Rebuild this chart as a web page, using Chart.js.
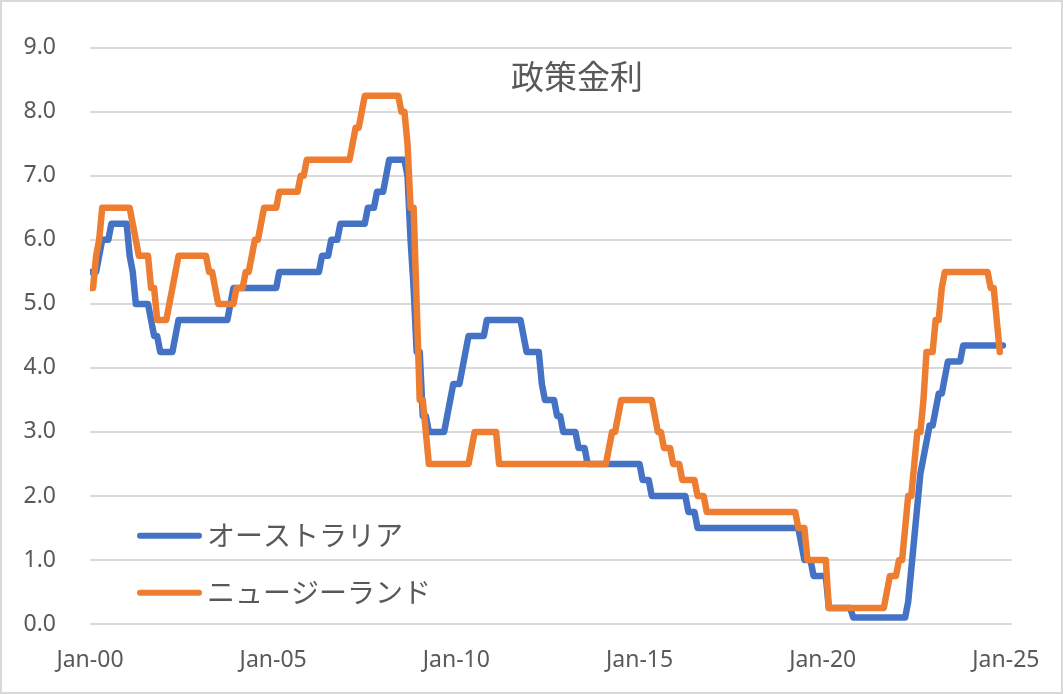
<!DOCTYPE html>
<html lang="ja">
<head>
<meta charset="utf-8">
<title>政策金利</title>
<script src="https://cdn.jsdelivr.net/npm/chart.js@4.4.1/dist/chart.umd.min.js"></script>
<style>
  html, body { margin: 0; padding: 0; background: #ffffff; }
  #wrap { position: relative; width: 1063px; height: 694px; }
</style>
</head>
<body>
<div id="wrap"><canvas id="rateChart"></canvas></div>
<script>
// 政策金利 (月次, 2000年1月〜2024年12月)
var chartTitle = '政策金利';
var seriesNames = ['オーストラリア', 'ニュージーランド'];
var xTickLabels = ['Jan-00', 'Jan-05', 'Jan-10', 'Jan-15', 'Jan-20', 'Jan-25'];
var monthsPerTick = 60;
var monthsOnAxis = 302;

// オーストラリア (RBA) 2000-2024, 1行 = 1年
var ausRates = [
  5.5, 5.5, 5.5, 5.75, 6.0, 6.0, 6.0, 6.25, 6.25, 6.25, 6.25, 6.25,
  6.25, 5.75, 5.5, 5.0, 5.0, 5.0, 5.0, 5.0, 4.75, 4.5, 4.5, 4.25,
  4.25, 4.25, 4.25, 4.25, 4.5, 4.75, 4.75, 4.75, 4.75, 4.75, 4.75, 4.75,
  4.75, 4.75, 4.75, 4.75, 4.75, 4.75, 4.75, 4.75, 4.75, 4.75, 5.0, 5.25,
  5.25, 5.25, 5.25, 5.25, 5.25, 5.25, 5.25, 5.25, 5.25, 5.25, 5.25, 5.25,
  5.25, 5.25, 5.5, 5.5, 5.5, 5.5, 5.5, 5.5, 5.5, 5.5, 5.5, 5.5,
  5.5, 5.5, 5.5, 5.5, 5.75, 5.75, 5.75, 6.0, 6.0, 6.0, 6.25, 6.25,
  6.25, 6.25, 6.25, 6.25, 6.25, 6.25, 6.25, 6.5, 6.5, 6.5, 6.75, 6.75,
  6.75, 7.0, 7.25, 7.25, 7.25, 7.25, 7.25, 7.25, 7.0, 6.0, 5.25, 4.25,
  4.25, 3.25, 3.25, 3.0, 3.0, 3.0, 3.0, 3.0, 3.0, 3.25, 3.5, 3.75,
  3.75, 3.75, 4.0, 4.25, 4.5, 4.5, 4.5, 4.5, 4.5, 4.5, 4.75, 4.75,
  4.75, 4.75, 4.75, 4.75, 4.75, 4.75, 4.75, 4.75, 4.75, 4.75, 4.5, 4.25,
  4.25, 4.25, 4.25, 4.25, 3.75, 3.5, 3.5, 3.5, 3.5, 3.25, 3.25, 3.0,
  3.0, 3.0, 3.0, 3.0, 2.75, 2.75, 2.75, 2.5, 2.5, 2.5, 2.5, 2.5,
  2.5, 2.5, 2.5, 2.5, 2.5, 2.5, 2.5, 2.5, 2.5, 2.5, 2.5, 2.5,
  2.5, 2.25, 2.25, 2.25, 2.0, 2.0, 2.0, 2.0, 2.0, 2.0, 2.0, 2.0,
  2.0, 2.0, 2.0, 2.0, 1.75, 1.75, 1.75, 1.5, 1.5, 1.5, 1.5, 1.5,
  1.5, 1.5, 1.5, 1.5, 1.5, 1.5, 1.5, 1.5, 1.5, 1.5, 1.5, 1.5,
  1.5, 1.5, 1.5, 1.5, 1.5, 1.5, 1.5, 1.5, 1.5, 1.5, 1.5, 1.5,
  1.5, 1.5, 1.5, 1.5, 1.5, 1.25, 1.0, 1.0, 1.0, 0.75, 0.75, 0.75,
  0.75, 0.75, 0.25, 0.25, 0.25, 0.25, 0.25, 0.25, 0.25, 0.25, 0.1, 0.1,
  0.1, 0.1, 0.1, 0.1, 0.1, 0.1, 0.1, 0.1, 0.1, 0.1, 0.1, 0.1,
  0.1, 0.1, 0.1, 0.1, 0.35, 0.85, 1.35, 1.85, 2.35, 2.6, 2.85, 3.1,
  3.1, 3.35, 3.6, 3.6, 3.85, 4.1, 4.1, 4.1, 4.1, 4.1, 4.35, 4.35,
  4.35, 4.35, 4.35, 4.35, 4.35, 4.35, 4.35, 4.35, 4.35, 4.35, 4.35, 4.35
];

// ニュージーランド (RBNZ OCR) 2000-2024/11
var nzRates = [
  5.25, 5.25, 5.75, 6.0, 6.5, 6.5, 6.5, 6.5, 6.5, 6.5, 6.5, 6.5,
  6.5, 6.5, 6.25, 6.0, 5.75, 5.75, 5.75, 5.75, 5.25, 5.25, 4.75, 4.75,
  4.75, 4.75, 5.0, 5.25, 5.5, 5.75, 5.75, 5.75, 5.75, 5.75, 5.75, 5.75,
  5.75, 5.75, 5.75, 5.5, 5.5, 5.25, 5.0, 5.0, 5.0, 5.0, 5.0, 5.0,
  5.25, 5.25, 5.25, 5.5, 5.5, 5.75, 6.0, 6.0, 6.25, 6.5, 6.5, 6.5,
  6.5, 6.5, 6.75, 6.75, 6.75, 6.75, 6.75, 6.75, 6.75, 7.0, 7.0, 7.25,
  7.25, 7.25, 7.25, 7.25, 7.25, 7.25, 7.25, 7.25, 7.25, 7.25, 7.25, 7.25,
  7.25, 7.25, 7.5, 7.75, 7.75, 8.0, 8.25, 8.25, 8.25, 8.25, 8.25, 8.25,
  8.25, 8.25, 8.25, 8.25, 8.25, 8.25, 8.0, 8.0, 7.5, 6.5, 6.5, 5.0,
  3.5, 3.5, 3.0, 2.5, 2.5, 2.5, 2.5, 2.5, 2.5, 2.5, 2.5, 2.5,
  2.5, 2.5, 2.5, 2.5, 2.5, 2.75, 3.0, 3.0, 3.0, 3.0, 3.0, 3.0,
  3.0, 3.0, 2.5, 2.5, 2.5, 2.5, 2.5, 2.5, 2.5, 2.5, 2.5, 2.5,
  2.5, 2.5, 2.5, 2.5, 2.5, 2.5, 2.5, 2.5, 2.5, 2.5, 2.5, 2.5,
  2.5, 2.5, 2.5, 2.5, 2.5, 2.5, 2.5, 2.5, 2.5, 2.5, 2.5, 2.5,
  2.5, 2.5, 2.75, 3.0, 3.0, 3.25, 3.5, 3.5, 3.5, 3.5, 3.5, 3.5,
  3.5, 3.5, 3.5, 3.5, 3.5, 3.25, 3.0, 3.0, 2.75, 2.75, 2.75, 2.5,
  2.5, 2.5, 2.25, 2.25, 2.25, 2.25, 2.25, 2.0, 2.0, 2.0, 1.75, 1.75,
  1.75, 1.75, 1.75, 1.75, 1.75, 1.75, 1.75, 1.75, 1.75, 1.75, 1.75, 1.75,
  1.75, 1.75, 1.75, 1.75, 1.75, 1.75, 1.75, 1.75, 1.75, 1.75, 1.75, 1.75,
  1.75, 1.75, 1.75, 1.75, 1.5, 1.5, 1.5, 1.0, 1.0, 1.0, 1.0, 1.0,
  1.0, 1.0, 0.25, 0.25, 0.25, 0.25, 0.25, 0.25, 0.25, 0.25, 0.25, 0.25,
  0.25, 0.25, 0.25, 0.25, 0.25, 0.25, 0.25, 0.25, 0.25, 0.5, 0.75, 0.75,
  0.75, 1.0, 1.0, 1.5, 2.0, 2.0, 2.5, 3.0, 3.0, 3.5, 4.25, 4.25,
  4.25, 4.75, 4.75, 5.25, 5.5, 5.5, 5.5, 5.5, 5.5, 5.5, 5.5, 5.5,
  5.5, 5.5, 5.5, 5.5, 5.5, 5.5, 5.5, 5.25, 5.25, 4.75, 4.25
];

var seriesColors = ['#4472C4', '#ED7D31'];
var textColor = '#595959';
var gridColor = '#D9D9D9';

// 月番号 (0 = 2000年1月) をx値にした点列
function toPoints(values) {
    return values.map(function (v, i) { return { x: i, y: v }; });
}

// タイトルと凡例はプロット領域の中に描く
var insideLabels = {
    id: 'insideLabels',
    beforeDraw: function (chart) {
        var c = chart.ctx;
        c.save();
        c.strokeStyle = gridColor;
        c.lineWidth = 2;
        c.strokeRect(1, 1, chart.width - 2, chart.height - 2);
        c.restore();
    },
    afterDraw: function (chart) {
        var c = chart.ctx;
        var area = chart.chartArea;
        c.save();
        c.fillStyle = textColor;
        c.textBaseline = 'middle';

        c.font = '33px "Noto Sans CJK JP"';
        c.textAlign = 'center';
        c.fillText(chartTitle, area.left + 487, area.top + 29);

        c.font = '28px "Noto Sans CJK JP"';
        c.textAlign = 'left';
        chart.data.datasets.forEach(function (ds, i) {
            var y = area.top + 488 + i * 57;
            c.strokeStyle = ds.borderColor;
            c.lineWidth = 6;
            c.lineCap = 'round';
            c.beginPath();
            c.moveTo(area.left + 50, y);
            c.lineTo(area.left + 109, y);
            c.stroke();
            c.fillText(ds.label, area.left + 117, y);
        });
        c.restore();
    }
};

var ctx = document.getElementById('rateChart');
new Chart(ctx, {
    type: 'line',
    data: {
        datasets: [
            {
                label: seriesNames[0],
                data: toPoints(ausRates),
                borderColor: seriesColors[0],
                backgroundColor: seriesColors[0],
                borderWidth: 6.5,
                order: 1
            },
            {
                label: seriesNames[1],
                data: toPoints(nzRates),
                borderColor: seriesColors[1],
                backgroundColor: seriesColors[1],
                borderWidth: 6.5,
                order: 0
            }
        ]
    },
    options: {
        responsive: true,
        maintainAspectRatio: false,
        animation: false,
        layout: { padding: { top: 39, right: 51, left: 0, bottom: 0 } },
        elements: {
            point: { radius: 0, hoverRadius: 0 },
            line: { tension: 0, borderCapStyle: 'round', borderJoinStyle: 'round' }
        },
        plugins: {
            legend: { display: false },
            title: { display: false },
            tooltip: { enabled: false }
        },
        scales: {
            x: {
                type: 'linear',
                min: 0,
                max: monthsOnAxis,
                grid: { display: false, drawTicks: false },
                border: { display: false },
                afterBuildTicks: function (axis) {
                    axis.ticks = xTickLabels.map(function (_, i) { return { value: i * monthsPerTick }; });
                },
                afterFit: function (axis) { axis.height = 70; },
                ticks: {
                    autoSkip: false,
                    maxRotation: 0,
                    padding: 23,
                    color: textColor,
                    font: { family: '"Noto Sans"', size: 23 },
                    callback: function (value) { return xTickLabels[Math.round(value / monthsPerTick)]; }
                }
            },
            y: {
                min: 0,
                max: 9,
                grid: { color: gridColor, lineWidth: 2, drawTicks: false },
                border: { display: false },
                afterFit: function (axis) { axis.width = 90; },
                ticks: {
                    stepSize: 1,
                    padding: 34,
                    color: textColor,
                    font: { family: '"Noto Sans"', size: 23 },
                    callback: function (value) { return value.toFixed(1); }
                }
            }
        }
    },
    plugins: [insideLabels]
});
</script>
</body>
</html>
